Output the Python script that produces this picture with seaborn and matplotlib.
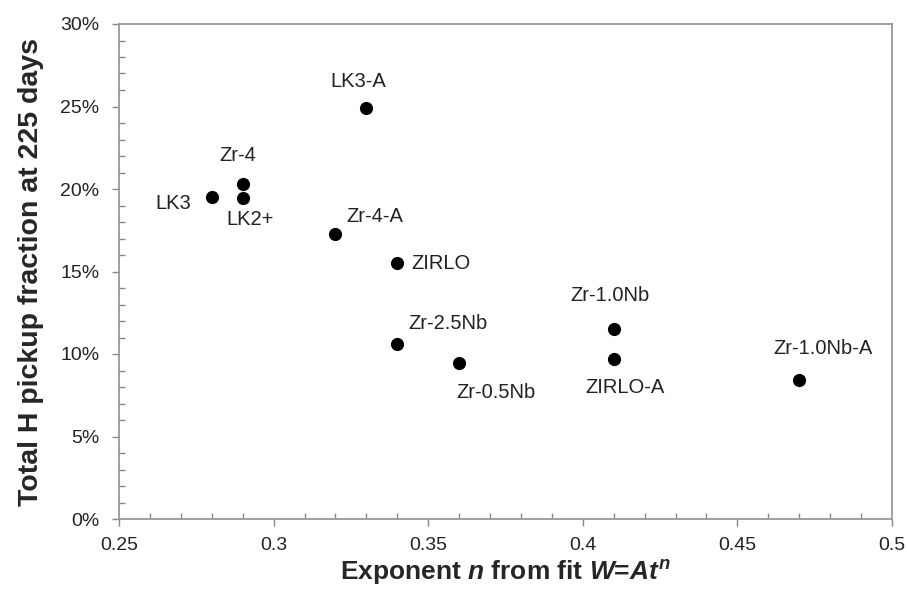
import matplotlib
matplotlib.use("Agg")
import matplotlib.pyplot as plt
import seaborn as sns
import pandas as pd
from matplotlib.ticker import MultipleLocator, FuncFormatter

alloys = ["LK3", "Zr-4", "LK2+", "LK3-A", "Zr-4-A", "ZIRLO", "Zr-2.5Nb",
          "Zr-0.5Nb", "Zr-1.0Nb", "ZIRLO-A", "Zr-1.0Nb-A"]
exponent_n = [0.28, 0.29, 0.29, 0.33, 0.32, 0.34, 0.34, 0.36, 0.41, 0.41, 0.47]
h_pickup = [0.1953, 0.203, 0.1944, 0.249, 0.173, 0.155, 0.106, 0.0944, 0.115, 0.097, 0.0842]
x_ticks = [0.25, 0.3, 0.35, 0.4, 0.45, 0.5]
y_ticks = [0.0, 0.05, 0.10, 0.15, 0.20, 0.25, 0.30]

# label offsets in pixels (dx, dy) relative to point
label_offsets = {
    "LK3": (-39, -7),
    "Zr-4": (-5, 29),
    "LK2+": (7, -21),
    "LK3-A": (-8, 27),
    "Zr-4-A": (39, 17),
    "ZIRLO": (44, 0),
    "Zr-2.5Nb": (51, 21),
    "Zr-0.5Nb": (37, -29),
    "Zr-1.0Nb": (-4, 34),
    "ZIRLO-A": (11, -29),
    "Zr-1.0Nb-A": (24, 32),
}

df = pd.DataFrame({"alloy": alloys, "n": exponent_n, "h": h_pickup})

sns.set_theme(style="white")
plt.rcParams["font.family"] = ["Liberation Sans", "DejaVu Sans"]
plt.rcParams["mathtext.fontset"] = "custom"
plt.rcParams["mathtext.rm"] = "Liberation Sans:bold"
plt.rcParams["mathtext.it"] = "Liberation Sans:italic:bold"
plt.rcParams["mathtext.bf"] = "Liberation Sans:bold"
plt.rcParams["mathtext.bfit"] = "Liberation Sans:italic:bold"

fig = plt.figure(figsize=(9.07, 5.9), dpi=100)
ax = fig.add_axes([119 / 907, 1 - 519 / 590, (892 - 119) / 907, (519 - 24) / 590])

sns.scatterplot(data=df, x="n", y="h", ax=ax, color="black", s=90,
                edgecolor="black", linewidth=0, zorder=3)

for a, xv, yv in zip(alloys, exponent_n, h_pickup):
    dx, dy = label_offsets[a]
    ax.annotate(a, (xv, yv), xytext=(dx, dy), textcoords="offset pixels",
                ha="center", va="center", fontsize=14.5, color="#222222")

ax.set_xlim(0.25, 0.5)
ax.set_ylim(0, 0.30)
ax.set_xticks(x_ticks)
ax.set_yticks(y_ticks)
ax.set_xticklabels([f"{v:g}" for v in x_ticks])
ax.yaxis.set_major_formatter(FuncFormatter(lambda v, p: f"{v*100:.0f}%"))
ax.xaxis.set_minor_locator(MultipleLocator(0.01))
ax.yaxis.set_minor_locator(MultipleLocator(0.01))

ax.tick_params(axis="both", which="major", direction="out", length=5, width=1,
               color="#888888", labelsize=14, labelcolor="#222222",
               bottom=True, left=True)
ax.tick_params(axis="x", which="major", pad=8)
ax.tick_params(axis="y", which="major", pad=9)
ax.tick_params(axis="both", which="minor", direction="in", length=4, width=1,
               color="#888888", bottom=True, left=True)

for side in ["left", "bottom", "top", "right"]:
    ax.spines[side].set_visible(True)
    ax.spines[side].set_color("#999999")
    ax.spines[side].set_linewidth(1.3)

ax.set_xlabel(r"Exponent $\mathit{n}$ from fit $\mathit{W}$=$\mathit{At^n}$",
              fontsize=19, fontweight="bold", labelpad=3)
ax.set_ylabel("Total H pickup fraction at 225 days", fontsize=20.5,
              fontweight="bold", labelpad=12)
ax.grid(False)

fig.savefig("out.png", dpi=100)
